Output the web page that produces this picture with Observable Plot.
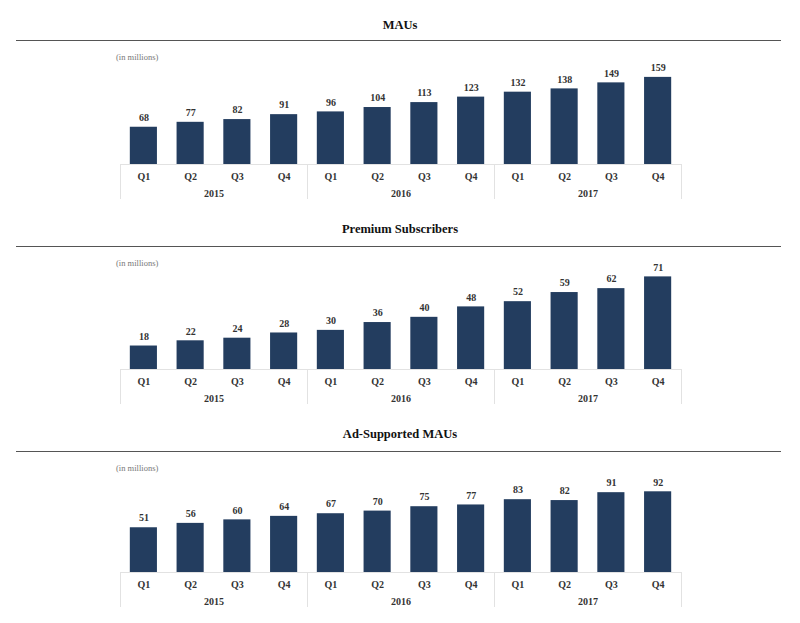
<!DOCTYPE html>
<html>
<head>
<meta charset="utf-8">
<script src="https://cdn.jsdelivr.net/npm/d3@7"></script>
<script src="https://cdn.jsdelivr.net/npm/@observablehq/plot@0.6"></script>
<style>
  body { margin: 0; background: #fff; }
  #root { position: relative; width: 800px; height: 623px; overflow: hidden; font-family: "Liberation Serif", "Times New Roman", serif; }
  .title { position: absolute; left: 0; width: 800px; text-align: center; font-weight: bold; font-size: 12.5px; line-height: 16px; color: #111; }
  .rule { position: absolute; left: 16px; width: 765px; height: 0; border-top: 1.5px solid #555; }
  .unit { position: absolute; left: 116px; font-size: 8.5px; line-height: 10px; color: #777; }
  .chart { position: absolute; left: 0; }
</style>
</head>
<body>
<div id="root"></div>
<script>
const years = ["2015", "2016", "2017"];
const quarters = ["Q1", "Q2", "Q3", "Q4"];
const titles = ["MAUs", "Premium Subscribers", "Ad-Supported MAUs"];
const unitLabel = "(in millions)";
const maus = [68, 77, 82, 91, 96, 104, 113, 123, 132, 138, 149, 159];
const premium = [18, 22, 24, 28, 30, 36, 40, 48, 52, 59, 62, 71];
const adSupported = [51, 56, 60, 64, 67, 70, 75, 77, 83, 82, 91, 92];

const panels = [
  {title: titles[0], values: maus, titleY: 25, ruleY: 41, axisY: 164, yMax: 188},
  {title: titles[1], values: premium, titleY: 229, ruleY: 247, axisY: 369, yMax: 78.2},
  {title: titles[2], values: adSupported, titleY: 434, ruleY: 452, axisY: 572, yMax: 114}
];

const W = 800, ML = 120, MR = 119, MT = 14, MB = 35;
const step = (W - ML - MR) / (years.length * quarters.length);
const barColor = "#233d5f";
const gridColor = "#e2e2e2";
const root = document.getElementById("root");

for (const p of panels) {
  const keys = [];
  const data = [];
  years.forEach((yr, yi) => quarters.forEach((q, qi) => {
    const key = yr + " " + q;
    keys.push(key);
    data.push({key, year: yr, q, value: p.values[yi * quarters.length + qi]});
  }));
  const seps = [
    ...years.map(yr => ({key: yr + " Q1", side: -1})),
    {key: years[years.length - 1] + " Q4", side: 1}
  ];
  const yearLabels = years.map(yr => ({key: yr + " Q2", year: yr}));

  const t = document.createElement("div");
  t.className = "title"; t.style.top = (p.titleY - 8) + "px"; t.textContent = p.title;
  root.appendChild(t);
  const r = document.createElement("div");
  r.className = "rule"; r.style.top = (p.ruleY - 0.75) + "px";
  root.appendChild(r);
  const u = document.createElement("div");
  u.className = "unit"; u.style.top = (p.ruleY + 11) + "px"; u.textContent = unitLabel;
  root.appendChild(u);

  const plotH = p.axisY - p.ruleY - 20;
  const svgTop = p.ruleY + 6;
  const height = MT + plotH + MB;

  const chart = Plot.plot({
    width: W, height,
    marginLeft: ML, marginRight: MR, marginTop: MT, marginBottom: MB,
    x: {domain: keys, paddingInner: 0.42, paddingOuter: 0.21, round: false, axis: null},
    y: {domain: [0, p.yMax], axis: null},
    style: {fontFamily: "Liberation Serif, Times New Roman, serif", background: "transparent", overflow: "visible"},
    marks: [
      Plot.barY(data, {x: "key", y: "value", fill: barColor}),
      Plot.ruleY([0], {stroke: gridColor, strokeWidth: 1}),
      Plot.ruleX(seps.filter(d => d.side < 0), {x: "key", dx: -step / 2, y1: () => 0, insetBottom: -MB, stroke: gridColor}),
      Plot.ruleX(seps.filter(d => d.side > 0), {x: "key", dx: step / 2, y1: () => 0, insetBottom: -MB, stroke: gridColor}),
      Plot.text(data, {x: "key", y: "value", text: d => String(d.value), dy: -9.5, fontSize: 10, fontWeight: "bold", fill: "#333"}),
      Plot.text(data, {x: "key", y: () => 0, text: "q", dy: 12, fontSize: 10, fontWeight: "bold", fill: "#333"}),
      Plot.text(yearLabels, {x: "key", y: () => 0, text: "year", dx: step / 2, dy: 29.5, fontSize: 10, fontWeight: "bold", fill: "#333"})
    ]
  });
  chart.classList.add("chart");
  chart.style.position = "absolute";
  chart.style.top = svgTop + "px";
  chart.style.left = "0px";
  root.appendChild(chart);
}
</script>
</body>
</html>
